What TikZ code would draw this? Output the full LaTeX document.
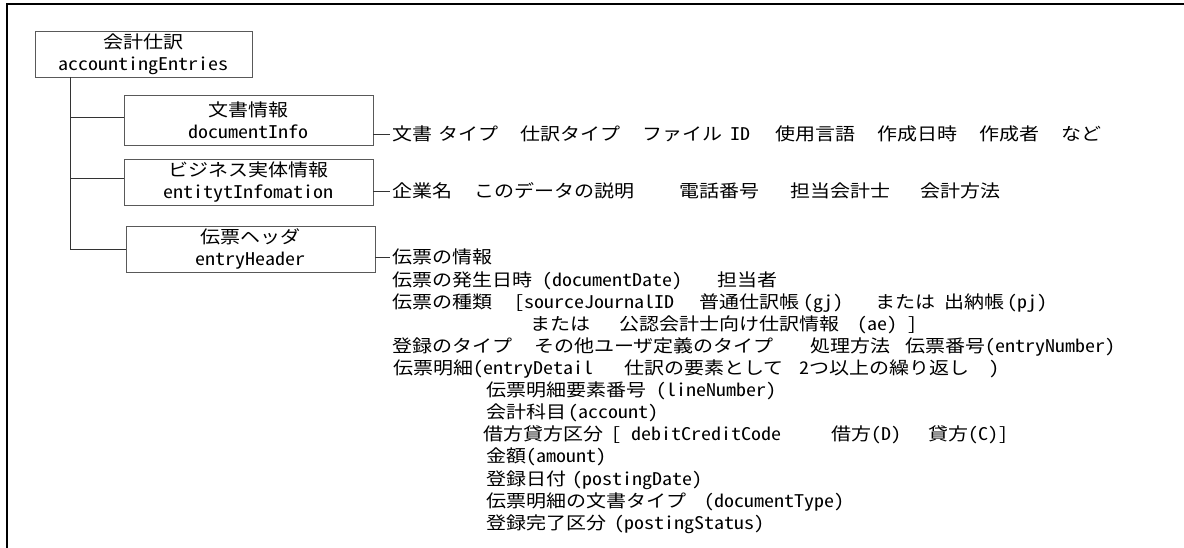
\documentclass[tikz,border=0pt]{standalone}
\usepackage{fontspec}
\setmainfont{Noto Sans CJK JP}[RawFeature=+hwid,FakeStretch=1.143]
\newcommand{\gp}[1]{\hspace*{#1bp}}
\begin{document}
\begin{tikzpicture}[x=1bp,y=-1bp,
  frame/.style={line width=2bp,black},
  box/.style={draw=black!65,line width=0.9bp,inner sep=0pt,align=center,
    font=\fontsize{17.5bp}{21.7bp}\selectfont},
  link/.style={draw=black!80,line width=0.9bp},
  lbl/.style={anchor=base west,inner sep=0pt,font=\fontsize{17.5bp}{21bp}\selectfont}]
\useasboundingbox (0,0) rectangle (1184,548);
\fill[white] (0,0) rectangle (1184,548);
% frame
\coordinate (ftl) at (6.5,4.5);
\coordinate (ftr) at (1184,4.5);
\coordinate (fbl) at (6.5,548);
\draw[frame] (ftr) -- (ftl) -- (fbl);
% boxes
\node[box,minimum width=217bp,minimum height=46bp] (root) at (143.5,54) {会計仕訳\\accountingEntries};
\node[box,minimum width=249bp,minimum height=50bp] (doc) at (248.5,120) {文書情報\\documentInfo};
\node[box,minimum width=249bp,minimum height=46bp] (ent) at (248.5,182) {ビジネス実体情報\\entitytInfomation};
\node[box,minimum width=249bp,minimum height=46bp] (hdr) at (250.5,249) {伝票ヘッダ\\entryHeader};
% tree
\coordinate (trunk) at (70,77);
\coordinate (bdoc) at ([yshift=3bp]doc.west);
\coordinate (bent) at ([yshift=4bp]ent.west);
\draw[link] (trunk) |- (hdr.west);
\draw[link] (trunk |- bdoc) -- (bdoc);
\draw[link] (trunk |- bent) -- (bent);
% labels (baseline = visual centre + 7)
\node[lbl] (ldoc) at (392,141) {文書\gp{6}タイプ\gp{22}仕訳タイプ\gp{22}ファイル\gp{8}ID\gp{25}使用言語\gp{22}作成日時\gp{22}作成者\gp{22}など};
\node[lbl] (lent) at (392,198) {企業名\gp{22}このデータの説明\gp{45}電話番号\gp{31}担当会計士\gp{30}会計方法};
\node[lbl] (h1) at (392,264) {伝票の情報};
\node[lbl] (h2) at (392,286.1) {伝票の発生日時\gp{10}(documentDate)\gp{35}担当者};
\node[lbl] (h3) at (392,308.2) {伝票の種類\gp{22}[sourceJournalID\gp{25}普通仕訳帳\gp{4}(gj)\gp{32}または\gp{9}出納帳\gp{3}(pj)};
\node[lbl] (h4) at (530,330.3) {または\gp{29}公認会計士向け仕訳情報\gp{18}(ae)\gp{10}]};
\node[lbl] (h5) at (392,352.4) {登録のタイプ\gp{22}その他ユーザ定義のタイプ\gp{37}処理方法\gp{15}伝票番号(entryNumber)};
\node[lbl] (h6) at (393,374.5) {伝票明細(entryDetail\gp{31}仕訳の要素として\gp{16}2つ以上の繰り返し\gp{20})};
\node[lbl] (h7) at (486,396.6) {伝票明細要素番号\gp{10}(lineNumber)};
\node[lbl] (h8) at (486,418.7) {会計科目\gp{2}(account)};
\node[lbl] (h9) at (483,440.8) {借方貸方区分\gp{8}[\gp{10}debitCreditCode\gp{50}借方(D)\gp{27}貸方(C)]};
\node[lbl] (h10) at (486,462.9) {金額(amount)};
\node[lbl] (h11) at (486,485) {登録日付\gp{6}(postingDate)};
\node[lbl] (h12) at (486,507.1) {伝票明細の文書タイプ\gp{18}(documentType)};
\node[lbl] (h13) at (486,529.2) {登録完了区分\gp{8}(postingStatus)};
% ticks
\coordinate (tdoc) at (390,134);
\coordinate (tent) at (390,191);
\coordinate (thdr) at (390,257);
\draw[link] (doc.east |- tdoc) -- (tdoc);
\draw[link] (ent.east |- tent) -- (tent);
\draw[link] (hdr.east |- thdr) -- (thdr);
\end{tikzpicture}
\end{document}
